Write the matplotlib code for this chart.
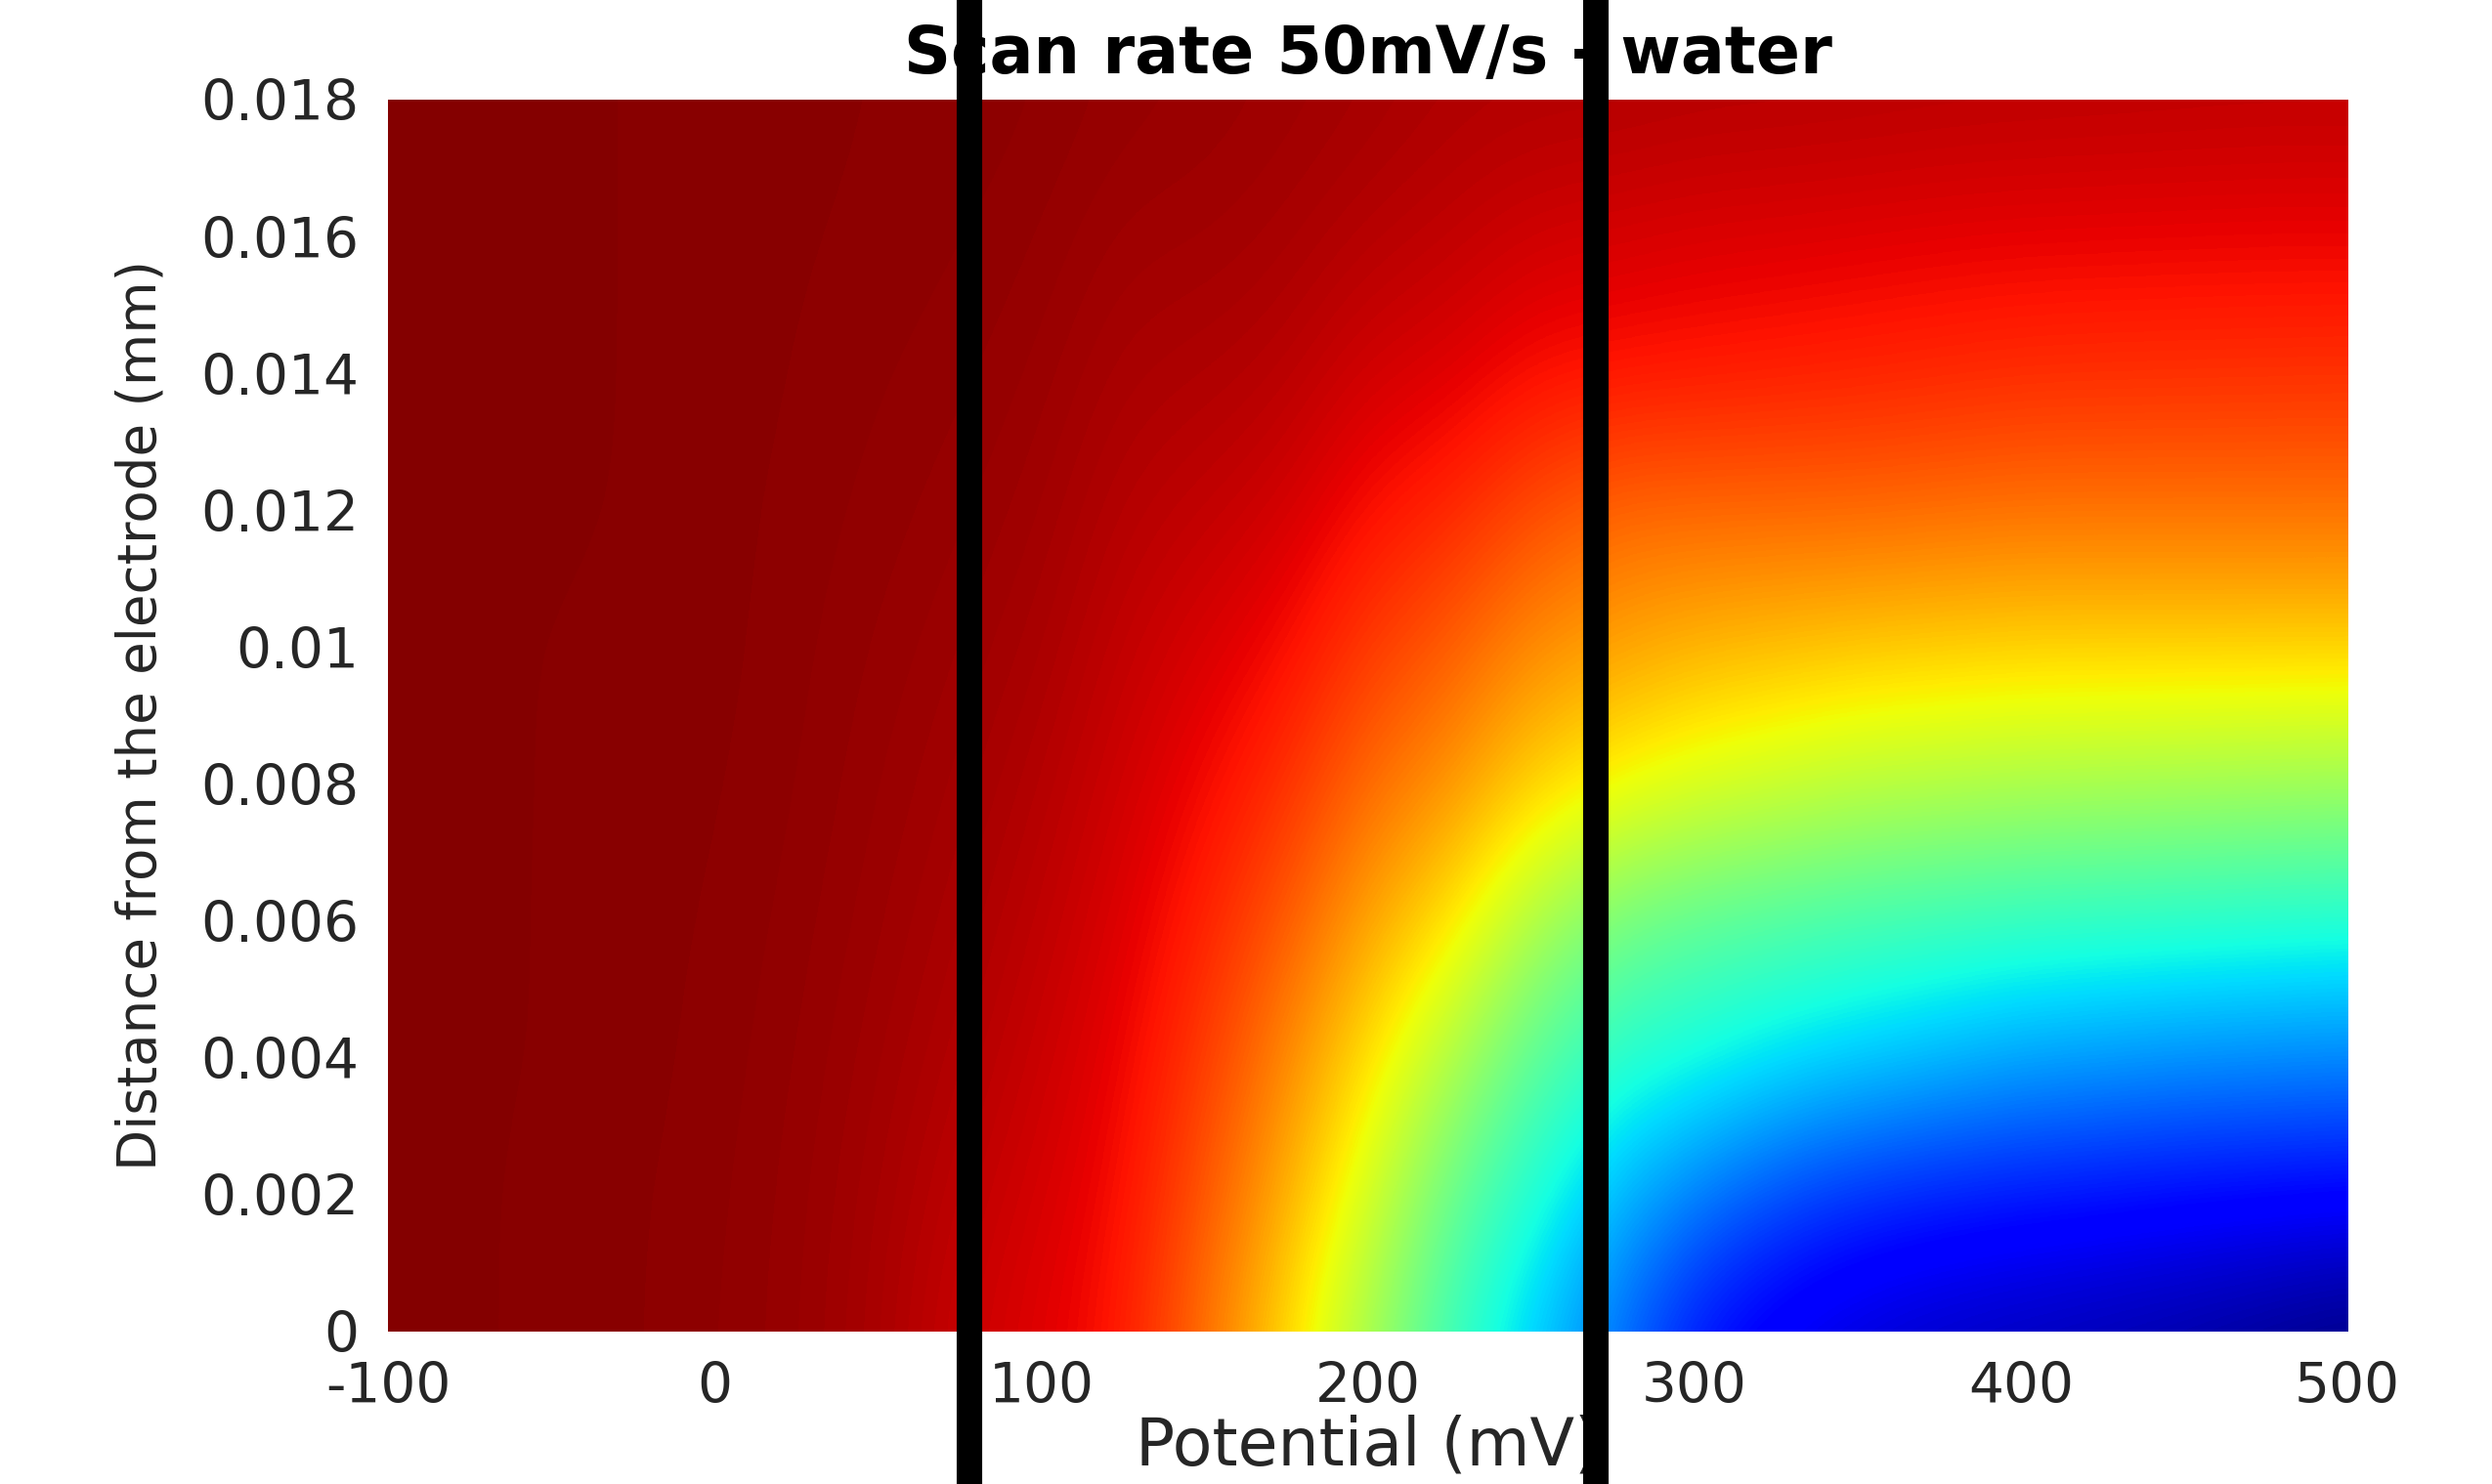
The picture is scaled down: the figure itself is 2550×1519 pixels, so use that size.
import numpy as np
import matplotlib.pyplot as plt
from matplotlib.transforms import blended_transform_factory

plt.switch_backend('Agg')
plt.rcParams['axes.unicode_minus'] = False

# potential axis (mV) and distance axis (mm) of the concentration grid
potential_mv = np.arange(-100, 501, 25)
distance_mm = np.arange(0, 0.0181, 0.002)

# normalised concentration, one column per potential, bottom (electrode) to top
conc_cols = [
    [0.993, 0.993, 0.993, 0.993, 0.993, 0.993, 0.993, 0.993, 0.993, 0.993],  # -100
    [0.993, 0.993, 0.993, 0.993, 0.993, 0.993, 0.993, 0.993, 0.993, 0.993],  # -75
    [0.991, 0.991, 0.992, 0.992, 0.992, 0.992, 0.993, 0.993, 0.993, 0.993],  # -50
    [0.989, 0.989, 0.990, 0.990, 0.991, 0.991, 0.992, 0.992, 0.992, 0.992],  # -25
    [0.985, 0.986, 0.987, 0.988, 0.989, 0.990, 0.990, 0.991, 0.991, 0.991],  # 0
    [0.978, 0.979, 0.981, 0.983, 0.985, 0.986, 0.987, 0.988, 0.989, 0.990],  # 25
    [0.963, 0.966, 0.970, 0.974, 0.977, 0.980, 0.983, 0.985, 0.987, 0.988],  # 50
    [0.935, 0.945, 0.955, 0.962, 0.968, 0.973, 0.978, 0.982, 0.985, 0.987],  # 75
    [0.915, 0.925, 0.935, 0.945, 0.954, 0.963, 0.970, 0.976, 0.981, 0.985],  # 100
    [0.885, 0.895, 0.906, 0.918, 0.930, 0.941, 0.952, 0.962, 0.971, 0.979],  # 125
    [0.790, 0.820, 0.848, 0.875, 0.900, 0.922, 0.942, 0.958, 0.970, 0.976],  # 150
    [0.680, 0.725, 0.765, 0.815, 0.860, 0.897, 0.928, 0.950, 0.964, 0.972],  # 175
    [0.550, 0.610, 0.672, 0.735, 0.795, 0.848, 0.893, 0.928, 0.952, 0.966],  # 200
    [0.420, 0.475, 0.565, 0.670, 0.755, 0.812, 0.870, 0.918, 0.943, 0.958],  # 225
    [0.330, 0.390, 0.460, 0.560, 0.690, 0.760, 0.830, 0.895, 0.930, 0.955],  # 250
    [0.240, 0.310, 0.400, 0.490, 0.650, 0.740, 0.800, 0.890, 0.925, 0.955],  # 275
    [0.140, 0.250, 0.380, 0.460, 0.620, 0.720, 0.800, 0.885, 0.920, 0.952],  # 300
    [0.100, 0.200, 0.350, 0.445, 0.600, 0.710, 0.800, 0.880, 0.918, 0.951],  # 325
    [0.075, 0.170, 0.330, 0.430, 0.580, 0.700, 0.800, 0.875, 0.915, 0.950],  # 350
    [0.060, 0.155, 0.310, 0.420, 0.570, 0.695, 0.795, 0.870, 0.912, 0.948],  # 375
    [0.050, 0.145, 0.290, 0.410, 0.560, 0.690, 0.790, 0.865, 0.910, 0.947],  # 400
    [0.040, 0.138, 0.280, 0.405, 0.555, 0.690, 0.790, 0.863, 0.909, 0.946],  # 425
    [0.030, 0.130, 0.270, 0.400, 0.550, 0.690, 0.790, 0.862, 0.908, 0.945],  # 450
    [0.015, 0.125, 0.265, 0.395, 0.545, 0.690, 0.790, 0.861, 0.907, 0.944],  # 475
    [0.000, 0.120, 0.260, 0.390, 0.540, 0.690, 0.790, 0.860, 0.907, 0.944],  # 500
]

# potentials marked on the profile
marker_potentials = [78, 270]

y_ticks = [0, 0.002, 0.004, 0.006, 0.008, 0.01, 0.012, 0.014, 0.016, 0.018]
y_ticklabels = ['0', '0.002', '0.004', '0.006', '0.008', '0.01',
                '0.012', '0.014', '0.016', '0.018']
x_ticks = [-100, 0, 100, 200, 300, 400, 500]

conc = np.array(conc_cols).T

fig = plt.figure(figsize=(6.375, 3.7975), dpi=400)
ax = fig.add_axes([0.1557, 0.1027, 0.7863, 0.8302])

dx = potential_mv[1] - potential_mv[0]
dy = distance_mm[1] - distance_mm[0]
ax.imshow(conc, origin='lower', cmap='jet', vmin=0, vmax=1,
          extent=[potential_mv[0] - dx / 2, potential_mv[-1] + dx / 2,
                  distance_mm[0] - dy / 2, distance_mm[-1] + dy / 2],
          interpolation='bicubic', interpolation_stage='data', aspect='auto')
ax.set_xlim(-100, 500)
ax.set_ylim(0, 0.018)

ax.set_xticks(x_ticks)
ax.set_yticks(y_ticks)
ax.set_yticklabels(y_ticklabels)
ax.tick_params(length=0, pad=5.4, labelsize=10.2, labelcolor='#262626')
for s in ax.spines.values():
    s.set_visible(False)

ax.set_xlabel('Potential (mV)', fontsize=12, color='#262626', labelpad=0)
ax.set_ylabel('Distance from the electrode (mm)', fontsize=9.85,
              color='#262626', labelpad=6)
ax.set_title('Scan rate 50mV/s - water', fontsize=12, fontweight='bold', pad=4.9)

# full-height markers at the selected potentials
trans = blended_transform_factory(ax.transData, fig.transFigure)
for p in marker_potentials:
    ax.plot([p, p], [0, 1], color='black', lw=4.7, transform=trans,
            clip_on=False, zorder=10, solid_capstyle='butt')

fig.savefig('out.png', dpi=400)
